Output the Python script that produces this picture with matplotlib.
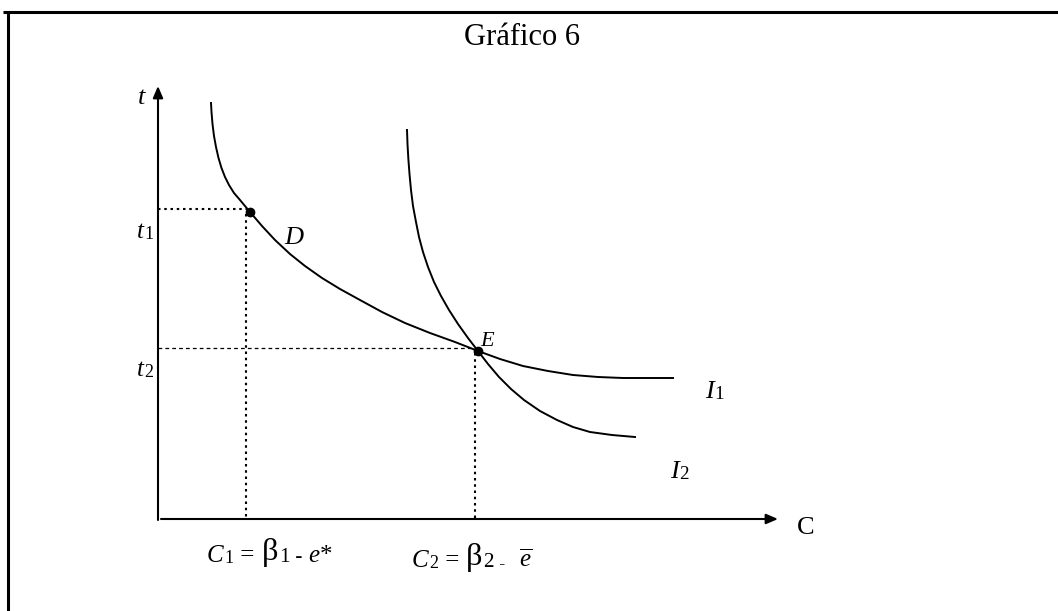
import matplotlib
matplotlib.use("Agg")
from matplotlib import pyplot as plt

plt.rcParams['font.family'] = ['Liberation Serif', 'DejaVu Serif']
plt.rcParams['mathtext.fontset'] = 'custom'
plt.rcParams['mathtext.rm'] = 'Liberation Serif'
plt.rcParams['mathtext.it'] = 'Liberation Serif:italic'

# curves (pixel units, y pointing down)
i1_x = [211, 211.5, 212.5, 214, 216, 218.5, 221.5, 225, 229, 234, 240, 245, 250,
        262, 275, 290, 305, 322, 340, 360, 382, 405, 430, 455, 478,
        500, 523, 548, 573, 598, 623, 648, 673]
i1_y = [103, 112, 124, 136, 147, 158, 168, 177, 185, 193, 200, 206, 212,
        226, 240, 254, 266, 278, 289, 300, 312, 323, 333, 342, 351,
        359, 366, 371, 375, 377, 378, 378, 378]
i2_x = [407, 407.5, 408.3, 409.5, 411, 413, 416, 419, 423, 428, 434, 441, 449, 458, 468,
        478, 488, 499, 511, 524, 540, 557, 573, 590, 612, 635]
i2_y = [130, 144, 158, 174, 190, 206, 222, 237, 252, 267, 282, 296, 310, 324, 338,
        351, 364, 377, 389, 400, 411, 420, 427, 432, 435, 437]

point_D = (250, 212)
point_E = (478, 351)
origin = (158, 519)
y_top = 86
x_right = 778


def put(ax, parts, x, y, size):
    # parts: (text, style, size factor); chained left to right on one baseline
    prev = None
    for s, style, f in parts:
        if prev is None:
            prev = ax.text(x, y, s, fontsize=size * f, style=style,
                           ha='left', va='baseline')
        else:
            prev = ax.annotate(s, xy=(1, 0), xycoords=prev, fontsize=size * f,
                               style=style, ha='left', va='bottom',
                               xytext=(0.5, 0), textcoords='offset points')
    return prev


fig = plt.figure(figsize=(10.58, 6.11), dpi=100)
ax = fig.add_axes([0, 0, 1, 1])
ax.set_xlim(0, 1058)
ax.set_ylim(611, 0)
ax.axis('off')

# frame
ax.plot([3, 1058], [12, 12], color='black', lw=2.2, solid_capstyle='butt')
ax.plot([8, 8], [12, 611], color='black', lw=2.2, solid_capstyle='butt')

ax.text(522, 45, "Gráfico 6", fontsize=22, ha='center', va='baseline')

# axes with arrows
ax.annotate('', xy=(origin[0], y_top), xytext=(origin[0], origin[1] + 1),
            arrowprops=dict(arrowstyle='-|>,head_length=0.7,head_width=0.3',
                            color='black', lw=1.5, shrinkA=0, shrinkB=0))
ax.annotate('', xy=(x_right, origin[1]), xytext=(origin[0] + 3, origin[1]),
            arrowprops=dict(arrowstyle='-|>,head_length=0.7,head_width=0.3',
                            color='black', lw=1.5, shrinkA=0, shrinkB=0))

# guide lines
ax.plot([origin[0], point_D[0] - 3], [point_D[1] - 3, point_D[1] - 3], color='black',
        lw=1.5, linestyle=(0, (1.2, 1.8)))
ax.plot([point_D[0] - 4, point_D[0] - 4], [point_D[1] + 2, origin[1]], color='black',
        lw=1.5, linestyle=(0, (1.2, 1.8)))
ax.plot([origin[0], point_E[0] - 3], [point_E[1] - 3, point_E[1] - 3], color='black',
        lw=0.9, linestyle=(0, (3, 2.5)))
ax.plot([point_E[0] - 3, point_E[0] - 3], [point_E[1] + 2, origin[1]], color='black',
        lw=1.5, linestyle=(0, (1.2, 1.8)))

# indifference curves
ax.plot(i1_x, i1_y, color='black', lw=1.4, solid_joinstyle='round')
ax.plot(i2_x, i2_y, color='black', lw=1.4, solid_joinstyle='round')
ax.plot(*point_D, 'o', color='black', ms=6)
ax.plot(*point_E, 'o', color='black', ms=6)

# labels
ax.text(142, 104, "t", fontsize=19, style='italic', ha='center', va='baseline')
put(ax, [("t", 'italic', 1), ("1", 'normal', 0.72)], 137, 238, 18)
put(ax, [("t", 'italic', 1), ("2", 'normal', 0.72)], 137, 376, 18)
ax.text(284, 244, "D", fontsize=19, style='italic', ha='left', va='baseline')
ax.text(480, 346, "E", fontsize=16, style='italic', ha='left', va='baseline')
put(ax, [("I", 'italic', 1), ("1", 'normal', 0.72)], 705, 398, 19)
put(ax, [("I", 'italic', 1), ("2", 'normal', 0.72)], 670, 478, 19)
ax.text(797, 534, "C", fontsize=19, ha='left', va='baseline')

put(ax, [("C", 'italic', 1), ("1", 'normal', 0.72), (" = ", 'normal', 1),
         ("β", 'normal', 1.3), ("1", 'normal', 0.85), (" - ", 'normal', 0.85),
         ("e", 'italic', 1), ("*", 'normal', 1)], 207, 562, 18)
put(ax, [("C", 'italic', 1), ("2", 'normal', 0.72), (" = ", 'normal', 1),
         ("β", 'normal', 1.3), ("2", 'normal', 0.85), (" -   ", 'normal', 0.7),
         (r"$\overline{\mathit{e}}$", 'normal', 1)], 412, 567, 18)

fig.savefig("out.png", dpi=100)
